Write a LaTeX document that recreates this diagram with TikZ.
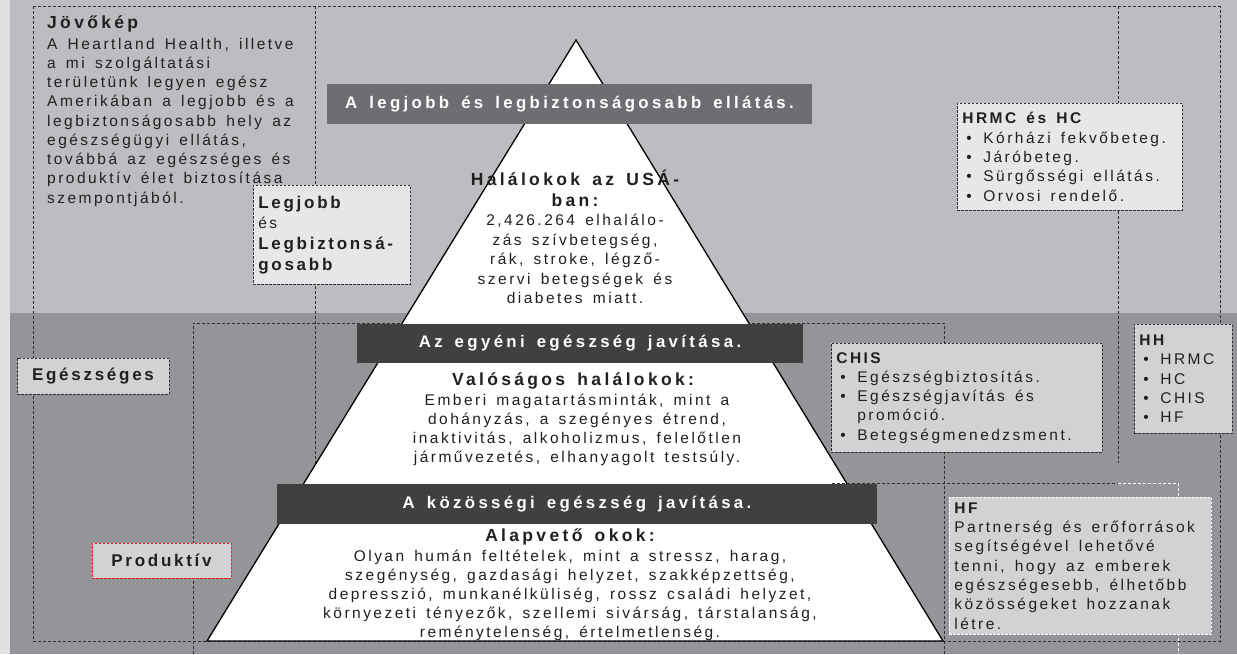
\documentclass[tikz,border=0pt]{standalone}
\usepackage{fontspec}
\setmainfont{Liberation Sans}[LetterSpace=16,WordSpace=1.5]
\definecolor{bgtop}{HTML}{BCBDC0}
\definecolor{bgbot}{HTML}{939598}
\definecolor{bgstrip}{HTML}{DFE0E1}
\definecolor{barA}{HTML}{6D6E71}
\definecolor{barB}{HTML}{404041}
\definecolor{boxlight}{HTML}{E6E7E8}
\definecolor{boxmid}{HTML}{D1D2D4}
\definecolor{textc}{HTML}{231F20}
\definecolor{linec}{HTML}{303030}
\definecolor{redc}{HTML}{ED1C24}
\newcommand{\hbul}[1]{\hspace*{4pt}\makebox[17pt][l]{•}#1}
\newcommand{\nsk}{\spaceskip=0pt\xspaceskip=0pt\relax}
\tikzset{
  frameline/.style={draw=linec, line width=0.75pt, dash pattern=on 3pt off 2pt},
  whiteline/.style={draw=white, line width=0.75pt, dash pattern=on 3pt off 2pt},
  bodyf/.style={font=\fontsize{15.5}{19.3}\selectfont, text=textc},
  headf/.style={font=\fontsize{17.5}{21}\selectfont\bfseries\addfontfeature{LetterSpace=19}, text=textc},
  bartext/.style={fill=#1, text=white, inner sep=0pt,
    font=\fontsize{16.8}{20}\selectfont\bfseries\addfontfeature{LetterSpace=20}},
  infobox/.style={draw=linec, fill=#1, line width=0.7pt, dash pattern=on 2.5pt off 1.5pt,
    inner ysep=0pt, inner xsep=5pt, anchor=north west, align=left, bodyf},
  labelbox/.style={draw=linec, fill=boxmid, line width=0.7pt, dash pattern=on 2.5pt off 1.5pt,
    inner sep=0pt, font=\fontsize{17}{21}\selectfont\bfseries, text=textc},
  pyrtext/.style={bodyf, align=center, inner sep=0pt},
  pyrhead/.style={headf, align=center, inner sep=0pt},
}
\begin{document}
\begin{tikzpicture}[x=1pt,y=-1pt]
\useasboundingbox (0,0) rectangle (1237,654);
% backgrounds
\fill[bgstrip] (0,0) rectangle (1237,654);
\fill[bgtop] (10,0) rectangle (1237,313);
\fill[bgbot] (10,313) rectangle (1237,654);
% dashed frames
\draw[frameline] (33,6) -- (1220,6);
\draw[frameline] (33,6) -- (33,641) -- (1220,641) -- (1220,6);
\draw[frameline] (315,6) -- (315,641);
\draw[frameline] (1118,6) -- (1118,463);
\draw[frameline] (193,654) -- (193,323) -- (944,323) -- (944,654);
% pyramid
\coordinate (apex) at (576,40);
\coordinate (bl) at (207,641);
\coordinate (br) at (943,641);
\draw[fill=white, draw=black, line width=1.3pt, line join=miter] (apex) -- (br) -- (bl) -- cycle;
\draw[frameline] (832,483) -- (1118,483);
\draw[whiteline] (1118,483) -- (1178,483) -- (1178,654);
% bars
\node[bartext=barA, minimum width=485pt, minimum height=40pt] (bar1) at (569.5,104) {A legjobb és legbiztonságosabb ellátás.};
\node[bartext=barB, minimum width=446pt, minimum height=39pt] (bar2) at (580,343.5) {Az egyéni egészség javítása.};
\node[bartext=barB, minimum width=600pt, minimum height=40pt] (bar3) at (577,504) {A közösségi egészség javítása.};
% pyramid texts
\node[pyrhead] (h1) at (575,188.5) {Halálokok az USÁ-\\ban:};
\node[pyrtext, font=\fontsize{15.5}{19.5}\selectfont] (t1) at (575,259) {2,426.264 elhalálo-\\zás szívbetegség,\\rák, stroke, légző-\\szervi betegségek és\\diabetes miatt.};
\node[pyrhead] (h2) at (573,381) {Valóságos halálokok:};
\node[pyrtext, font=\fontsize{15.5}{19}\selectfont] (t2) at (577,430) {Emberi magatartásminták, mint a\\dohányzás, a szegényes étrend,\\inaktivitás, alkoholizmus, felelőtlen\\járművezetés, elhanyagolt testsúly.};
\node[pyrhead] (h3) at (570,537) {Alapvető okok:};
\node[pyrtext, font=\fontsize{15.5}{19}\selectfont] (t3) at (570,595) {Olyan humán feltételek, mint a stressz, harag,\\szegénység, gazdasági helyzet, szakképzettség,\\depresszió, munkanélküliség, rossz családi helyzet,\\környezeti tényezők, szellemi sivárság, társtalanság,\\reménytelenség, értelmetlenség.};
% Jövőkép
\node[headf, anchor=west, inner sep=0pt] (jvhead) at (47,24) {Jövőkép};
\node[bodyf, anchor=west, align=left, inner sep=0pt, font=\fontsize{15.5}{19.25}\selectfont] (jvbody) at (47,122) {A Heartland Health, illetve\\a mi szolgáltatási\\területünk legyen egész\\Amerikában a legjobb és a\\legbiztonságosabb hely az\\egészségügyi ellátás,\\továbbá az egészséges és\\produktív élet biztosítása\\szempontjából.};
% info boxes
\node[infobox=boxlight, minimum height=99pt, text width=147pt, font=\fontsize{17}{20.7}\selectfont] (legjobb) at (253,185)
  {\nsk{\bfseries Legjobb}\\{\fontsize{15.5}{20.7}\selectfont és}\\{\bfseries Legbiztonsá-}\\{\bfseries gosabb}};
\node[infobox=boxlight, minimum height=107pt, text width=215pt] (hrmc) at (957,103)
  {\nsk\textbf{HRMC és HC}\\\hbul{Kórházi fekvőbeteg.}\\\hbul{Járóbeteg.}\\\hbul{Sürgősségi ellátás.}\\\hbul{Orvosi rendelő.}};
\node[infobox=boxmid, minimum height=109pt, text width=261pt] (chis) at (831,343)
  {\nsk\textbf{CHIS}\\\hbul{Egészségbiztosítás.}\\\hbul{Egészségjavítás és}\\\hspace*{21pt}promóció.\\\hbul{Betegségmenedzsment.}};
\node[infobox=boxmid, minimum height=109pt, text width=88pt] (hh) at (1134,324)
  {\nsk\textbf{HH}\\\hbul{HRMC}\\\hbul{HC}\\\hbul{CHIS}\\\hbul{HF}};
\node[infobox=boxmid, draw=white, minimum height=137pt, text width=252pt] (hf) at (949,497)
  {\nsk\textbf{HF}\\Partnerség és erőforrások\\segítségével lehetővé\\tenni, hogy az emberek\\egészségesebb, élhetőbb\\közösségeket hozzanak\\létre.};
\node[labelbox, minimum width=152pt, minimum height=36pt] (egesz) at (93,376) {Egészséges};
\node[labelbox, draw=redc, minimum width=139pt, minimum height=35pt] (prod) at (161.5,560.5) {Produktív};
\end{tikzpicture}
\end{document}
